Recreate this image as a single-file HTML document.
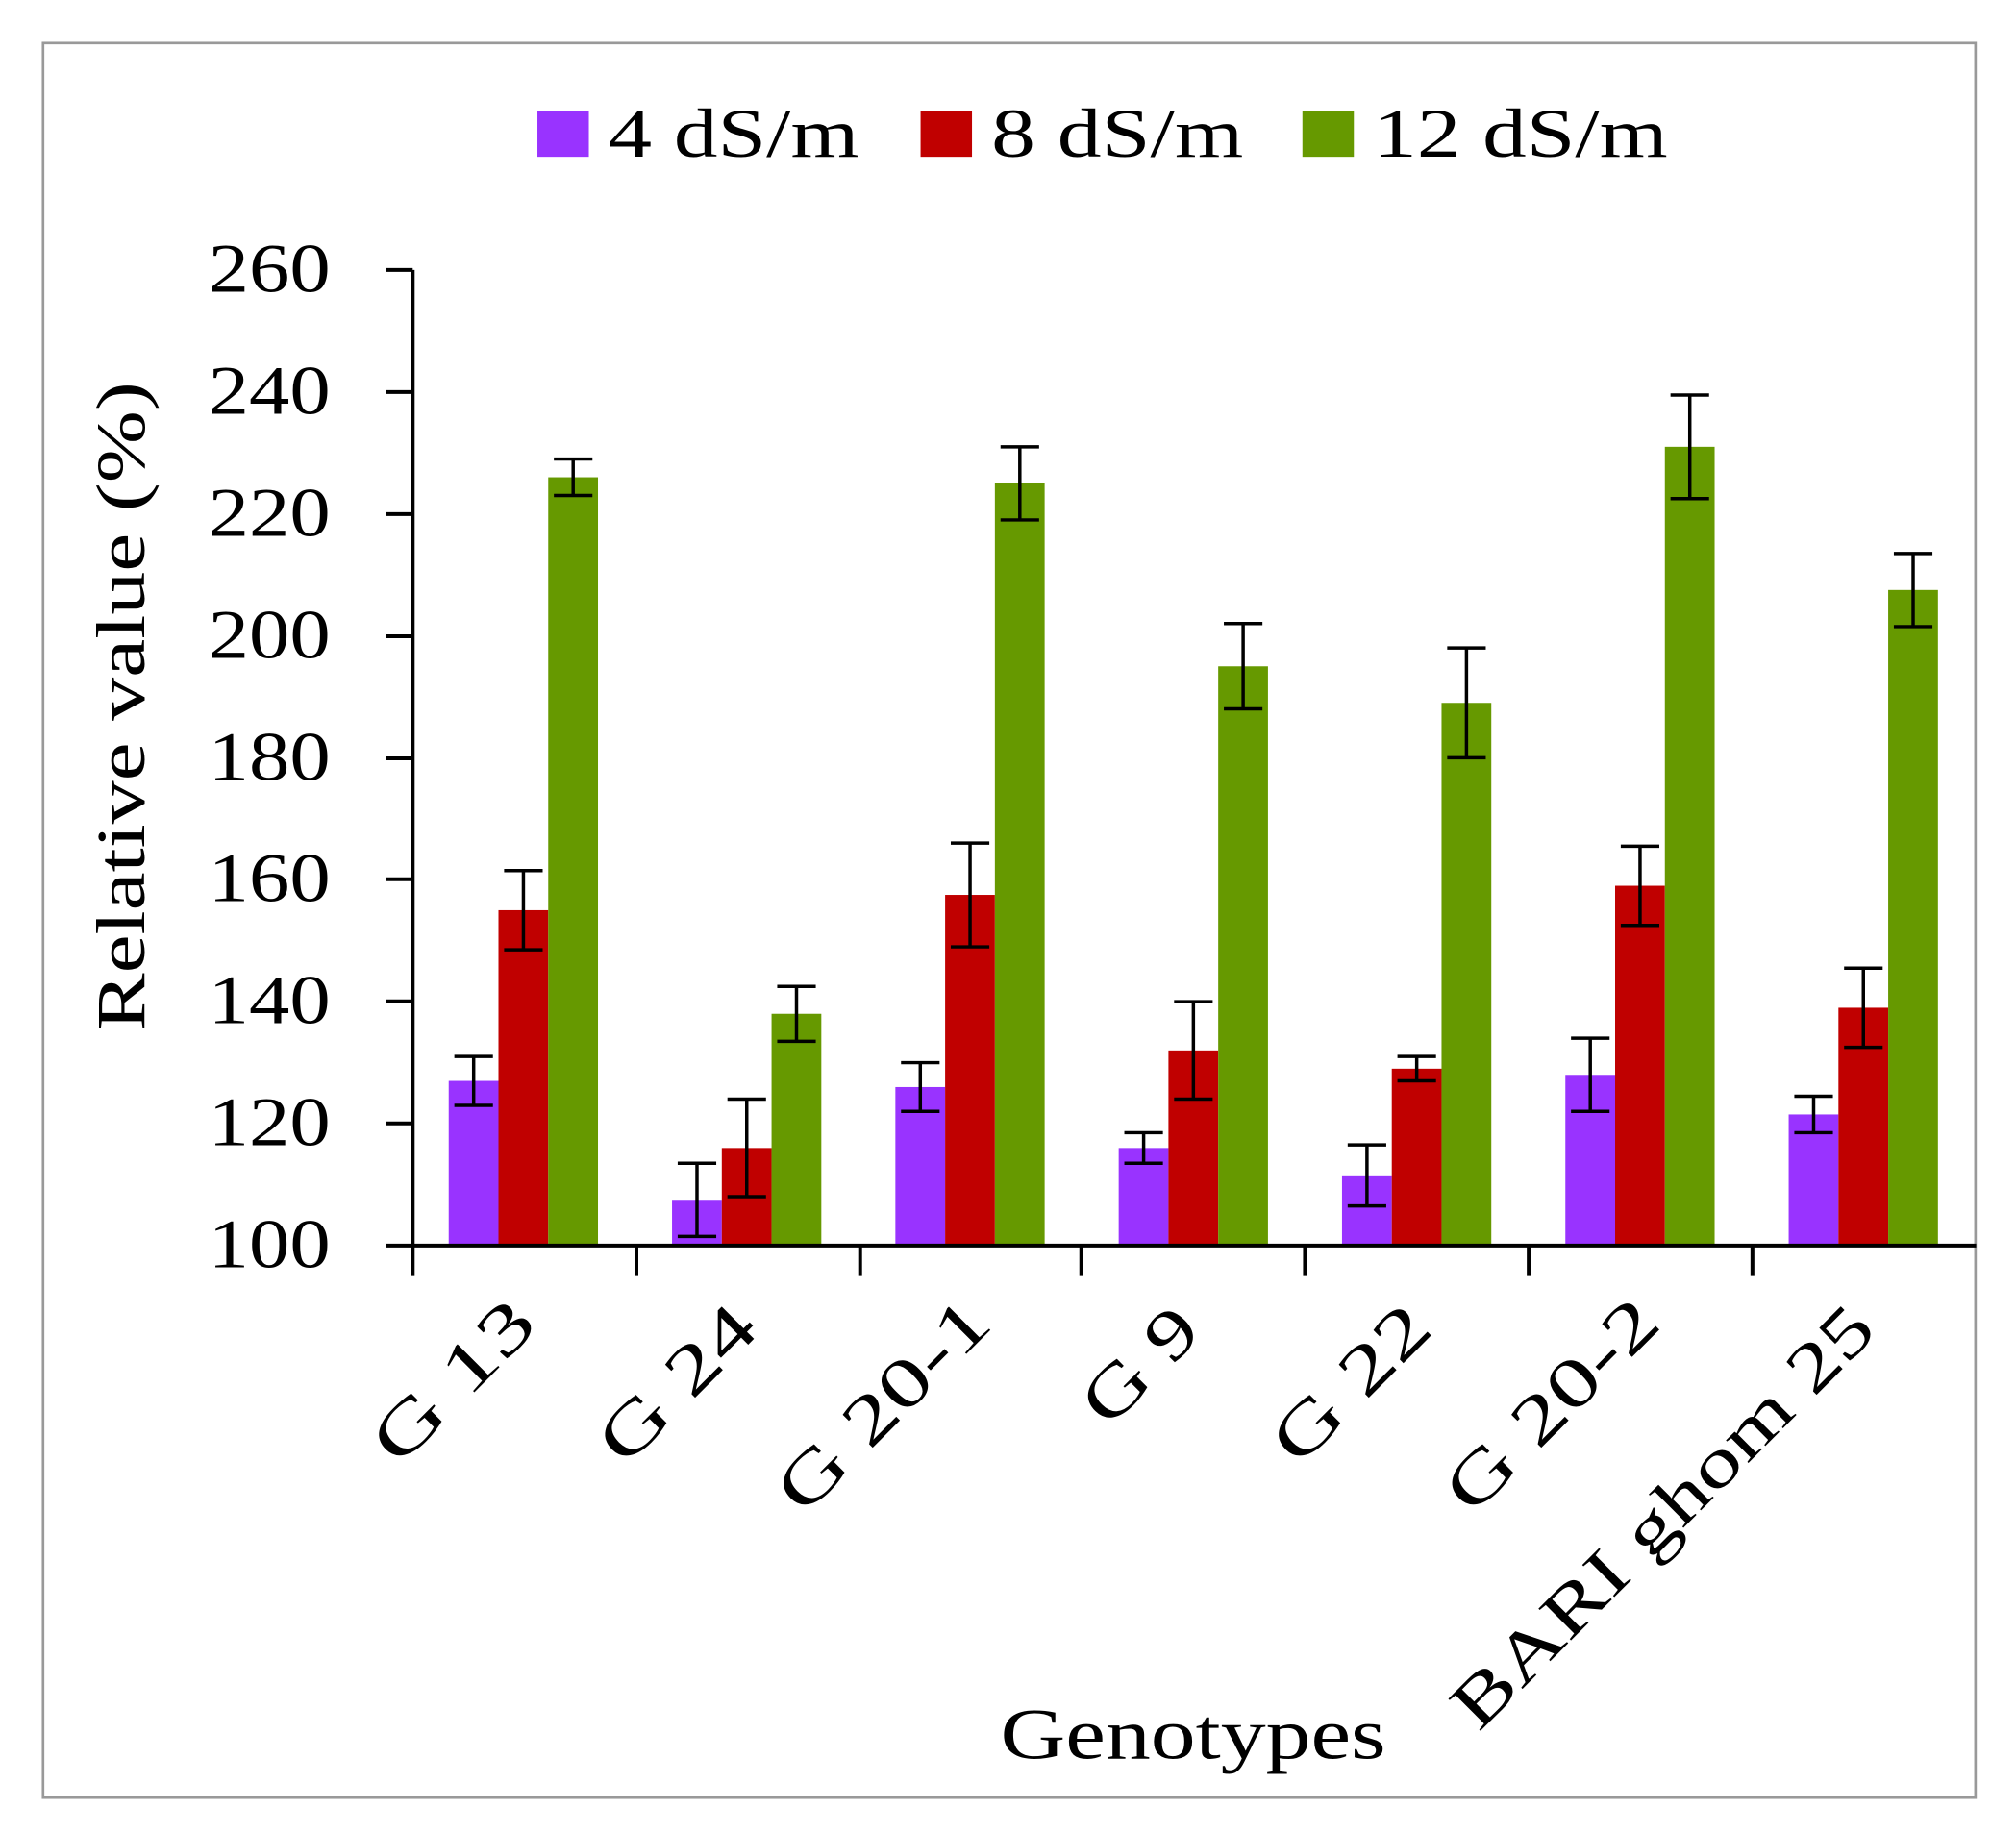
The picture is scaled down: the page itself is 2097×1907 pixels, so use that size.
<!DOCTYPE html>
<html><head><style>html,body{margin:0;padding:0;background:#fff}svg{display:block}</style></head>
<body>
<svg width="2097" height="1907" viewBox="0 0 1568 1426" preserveAspectRatio="none" xmlns="http://www.w3.org/2000/svg" font-family="Liberation Serif, serif">
<rect x="0" y="0" width="1568" height="1426" fill="#fff"/>
<rect x="33.5" y="33.5" width="1503" height="1365" fill="none" stroke="#999" stroke-width="2"/>
<rect x="418" y="86" width="40" height="36" fill="#9933ff"/>
<text x="473" y="122" font-size="54" textLength="195" lengthAdjust="spacingAndGlyphs">4 dS/m</text>
<rect x="716" y="86" width="40" height="36" fill="#c00000"/>
<text x="771" y="122" font-size="54" textLength="196" lengthAdjust="spacingAndGlyphs">8 dS/m</text>
<rect x="1013" y="86" width="40" height="36" fill="#669900"/>
<text x="1068" y="122" font-size="54" textLength="229" lengthAdjust="spacingAndGlyphs">12 dS/m</text>
<g>
<rect x="349" y="840.9" width="38.7" height="128.1" fill="#9933ff"/>
<rect x="387.7" y="708.1" width="38.7" height="260.9" fill="#c00000"/>
<rect x="426.4" y="371.3" width="38.7" height="597.7" fill="#669900"/>
<rect x="522.7" y="933.4" width="38.7" height="35.6" fill="#9933ff"/>
<rect x="561.4" y="893.1" width="38.7" height="75.9" fill="#c00000"/>
<rect x="600.1" y="788.7" width="38.7" height="180.3" fill="#669900"/>
<rect x="696.4" y="845.7" width="38.7" height="123.3" fill="#9933ff"/>
<rect x="735.1" y="696.2" width="38.7" height="272.8" fill="#c00000"/>
<rect x="773.8" y="376" width="38.7" height="593" fill="#669900"/>
<rect x="870.1" y="893.1" width="38.7" height="75.9" fill="#9933ff"/>
<rect x="908.8" y="817.2" width="38.7" height="151.8" fill="#c00000"/>
<rect x="947.5" y="518.4" width="38.7" height="450.6" fill="#669900"/>
<rect x="1043.8" y="914.4" width="38.7" height="54.6" fill="#9933ff"/>
<rect x="1082.5" y="831.4" width="38.7" height="137.6" fill="#c00000"/>
<rect x="1121.2" y="546.8" width="38.7" height="422.2" fill="#669900"/>
<rect x="1217.5" y="836.2" width="38.7" height="132.8" fill="#9933ff"/>
<rect x="1256.2" y="689.1" width="38.7" height="279.9" fill="#c00000"/>
<rect x="1294.9" y="347.6" width="38.7" height="621.4" fill="#669900"/>
<rect x="1391.2" y="867" width="38.7" height="102" fill="#9933ff"/>
<rect x="1429.9" y="784" width="38.7" height="185" fill="#c00000"/>
<rect x="1468.6" y="459" width="38.7" height="510" fill="#669900"/>
</g>
<g stroke="#000" stroke-width="2.6" fill="none">
<path d="M368.4 821.9V859.9M353.4 821.9H383.4M353.4 859.9H383.4"/>
<path d="M407.1 677.3V738.9M392.1 677.3H422.1M392.1 738.9H422.1"/>
<path d="M445.8 357.1V385.5M430.8 357.1H460.8M430.8 385.5H460.8"/>
<path d="M542.1 905V961.9M527.1 905H557.1M527.1 961.9H557.1"/>
<path d="M580.8 855.1V931M565.8 855.1H595.8M565.8 931H595.8"/>
<path d="M619.5 767.4V810.1M604.5 767.4H634.5M604.5 810.1H634.5"/>
<path d="M715.8 826.7V864.6M700.8 826.7H730.8M700.8 864.6H730.8"/>
<path d="M754.5 655.9V736.6M739.5 655.9H769.5M739.5 736.6H769.5"/>
<path d="M793.2 347.6V404.5M778.2 347.6H808.2M778.2 404.5H808.2"/>
<path d="M889.5 881.2V905M874.5 881.2H904.5M874.5 905H904.5"/>
<path d="M928.2 779.3V855.1M913.2 779.3H943.2M913.2 855.1H943.2"/>
<path d="M966.9 485.1V551.5M951.9 485.1H981.9M951.9 551.5H981.9"/>
<path d="M1063.2 890.7V938.2M1048.2 890.7H1078.2M1048.2 938.2H1078.2"/>
<path d="M1101.9 821.9V840.9M1086.9 821.9H1116.9M1086.9 840.9H1116.9"/>
<path d="M1140.6 504.1V589.5M1125.6 504.1H1155.6M1125.6 589.5H1155.6"/>
<path d="M1236.9 807.7V864.6M1221.9 807.7H1251.9M1221.9 864.6H1251.9"/>
<path d="M1275.6 658.3V719.9M1260.6 658.3H1290.6M1260.6 719.9H1290.6"/>
<path d="M1314.3 307.3V387.9M1299.3 307.3H1329.3M1299.3 387.9H1329.3"/>
<path d="M1410.6 852.8V881.2M1395.6 852.8H1425.6M1395.6 881.2H1425.6"/>
<path d="M1449.3 753.2V814.8M1434.3 753.2H1464.3M1434.3 814.8H1464.3"/>
<path d="M1488 430.6V487.5M1473 430.6H1503M1473 487.5H1503"/>
</g>
<g stroke="#000" stroke-width="3">
<line x1="321" y1="210" x2="321" y2="992"/>
<line x1="300" y1="969" x2="1537" y2="969"/>
<line x1="300" y1="210" x2="321" y2="210"/>
<line x1="300" y1="305" x2="321" y2="305"/>
<line x1="300" y1="400" x2="321" y2="400"/>
<line x1="300" y1="495" x2="321" y2="495"/>
<line x1="300" y1="590" x2="321" y2="590"/>
<line x1="300" y1="684" x2="321" y2="684"/>
<line x1="300" y1="779" x2="321" y2="779"/>
<line x1="300" y1="874" x2="321" y2="874"/>
<line x1="495" y1="969" x2="495" y2="992"/>
<line x1="669" y1="969" x2="669" y2="992"/>
<line x1="841" y1="969" x2="841" y2="992"/>
<line x1="1015" y1="969" x2="1015" y2="992"/>
<line x1="1189" y1="969" x2="1189" y2="992"/>
<line x1="1363" y1="969" x2="1363" y2="992"/>
</g>
<g font-size="54">
<text x="162" y="227" textLength="95" lengthAdjust="spacingAndGlyphs">260</text>
<text x="162" y="322" textLength="95" lengthAdjust="spacingAndGlyphs">240</text>
<text x="162" y="417" textLength="95" lengthAdjust="spacingAndGlyphs">220</text>
<text x="162" y="512" textLength="95" lengthAdjust="spacingAndGlyphs">200</text>
<text x="162" y="607" textLength="95" lengthAdjust="spacingAndGlyphs">180</text>
<text x="162" y="701" textLength="95" lengthAdjust="spacingAndGlyphs">160</text>
<text x="162" y="796" textLength="95" lengthAdjust="spacingAndGlyphs">140</text>
<text x="162" y="891" textLength="95" lengthAdjust="spacingAndGlyphs">120</text>
<text x="162" y="986" textLength="95" lengthAdjust="spacingAndGlyphs">100</text>
</g>
<text transform="translate(112,802) rotate(-90)" font-size="54" textLength="505" lengthAdjust="spacingAndGlyphs">Relative value (%)</text>
<g font-size="54">
<text transform="translate(310,1142) rotate(-45)" textLength="155" lengthAdjust="spacingAndGlyphs">G 13</text>
<text transform="translate(486,1142) rotate(-45)" textLength="150" lengthAdjust="spacingAndGlyphs">G 24</text>
<text transform="translate(625,1180) rotate(-45)" textLength="210" lengthAdjust="spacingAndGlyphs">G 20-1</text>
<text transform="translate(862,1112) rotate(-45)" textLength="105" lengthAdjust="spacingAndGlyphs">G 9</text>
<text transform="translate(1010,1142) rotate(-45)" textLength="150" lengthAdjust="spacingAndGlyphs">G 22</text>
<text transform="translate(1145,1180) rotate(-45)" textLength="210" lengthAdjust="spacingAndGlyphs">G 20-2</text>
<text transform="translate(1150,1348) rotate(-45)" textLength="440" lengthAdjust="spacingAndGlyphs">BARI ghom 25</text>
</g>
<text x="778" y="1368" font-size="56" textLength="300" lengthAdjust="spacingAndGlyphs">Genotypes</text>
</svg>
</body></html>
